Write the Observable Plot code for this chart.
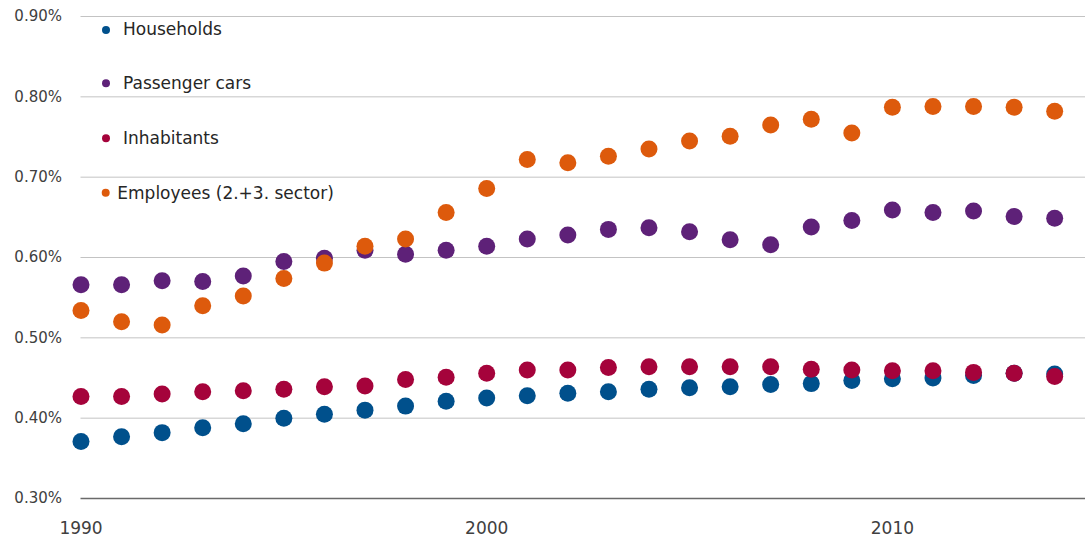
<!DOCTYPE html>
<html>
<head>
<meta charset="utf-8">
<script src="https://cdn.jsdelivr.net/npm/d3@7"></script>
<script src="https://cdn.jsdelivr.net/npm/@observablehq/plot@0.6"></script>
<style>
  html, body { margin: 0; padding: 0; background: #fff; }
  #wrap { position: relative; width: 1085px; height: 538px; }
  #legend { position: absolute; left: 0; top: 0; pointer-events: none; }
</style>
</head>
<body>
<div id="wrap"></div>
<script>
const years = [1990,1991,1992,1993,1994,1995,1996,1997,1998,1999,2000,2001,2002,2003,2004,2005,2006,2007,2008,2009,2010,2011,2012,2013,2014];
const seriesNames = ["Households", "Passenger cars", "Inhabitants", "Employees (2.+3. sector)"];
const seriesColors = ["#00508c", "#5e2178", "#a5033b", "#dd5a0c"];
const households = [0.371,0.377,0.382,0.388,0.393,0.400,0.405,0.410,0.415,0.421,0.425,0.428,0.431,0.433,0.436,0.438,0.439,0.442,0.443,0.447,0.449,0.450,0.453,0.456,0.455];
const passengerCars = [0.566,0.566,0.571,0.570,0.577,0.595,0.599,0.609,0.604,0.609,0.614,0.623,0.628,0.635,0.637,0.632,0.622,0.616,0.638,0.646,0.659,0.656,0.658,0.651,0.649];
const inhabitants = [0.427,0.427,0.430,0.433,0.434,0.436,0.439,0.440,0.448,0.451,0.456,0.460,0.460,0.463,0.464,0.464,0.464,0.464,0.461,0.460,0.459,0.459,0.457,0.456,0.452];
const employees = [0.534,0.520,0.516,0.540,0.552,0.574,0.593,0.614,0.623,0.656,0.686,0.722,0.718,0.726,0.735,0.745,0.751,0.765,0.772,0.755,0.787,0.788,0.788,0.787,0.782];
const yTicks = [0.3,0.4,0.5,0.6,0.7,0.8,0.9];
const xTicks = [1990,2000,2010];

const allSeries = [households, passengerCars, inhabitants, employees];
const data = [];
allSeries.forEach((vals, si) => {
  vals.forEach((v, i) => data.push({year: years[i], value: v, series: seriesNames[si]}));
});

const W = 1085, H = 538;
const mL = 80.5, mR = 0, mT = 16, mB = 40;
const pxPerYear = 40.57;
const xMax = 1990 + (W - mL - mR) / pxPerYear;

const chart = Plot.plot({
  width: W,
  height: H,
  marginLeft: mL,
  marginRight: mR,
  marginTop: mT,
  marginBottom: mB,
  style: {fontFamily: "'DejaVu Sans', sans-serif", color: "#404040", background: "#fff", overflow: "visible"},
  x: {domain: [1990, xMax]},
  y: {domain: [0.3, 0.9]},
  color: {domain: seriesNames, range: seriesColors},
  marks: [
    Plot.ruleY(yTicks.filter(d => d > 0.3), {stroke: "#c3c3c3", strokeWidth: 1}),
    Plot.ruleY([0.3], {stroke: "#6a6a6a", strokeWidth: 1.5}),
    Plot.axisY(yTicks, {tickSize: 0, tickPadding: 19, fontSize: 15, fill: "#404040",
      tickFormat: d => d.toFixed(2) + "%", label: null}),
    Plot.axisX(xTicks, {tickSize: 0, tickPadding: 23, fontSize: 17, fill: "#404040",
      tickFormat: d => String(d), label: null}),
    Plot.dot(data, {x: "year", y: "value", fill: "series", r: 8.5, stroke: "none"})
  ]
});

const wrap = document.getElementById("wrap");
wrap.appendChild(chart);

// legend overlay
const legendPos = [
  {cx: 106, cy: 30, tx: 123, ty: 35},
  {cx: 106, cy: 83.3, tx: 123, ty: 89.3},
  {cx: 106, cy: 138.3, tx: 123, ty: 144.3},
  {cx: 105.7, cy: 192.7, tx: 117.3, ty: 199}
];
const ns = "http://www.w3.org/2000/svg";
const lg = document.createElementNS(ns, "svg");
lg.setAttribute("id", "legend");
lg.setAttribute("width", W);
lg.setAttribute("height", H);
seriesNames.forEach((name, i) => {
  const p = legendPos[i];
  const c = document.createElementNS(ns, "circle");
  c.setAttribute("cx", p.cx); c.setAttribute("cy", p.cy); c.setAttribute("r", 4);
  c.setAttribute("fill", seriesColors[i]);
  lg.appendChild(c);
  const t = document.createElementNS(ns, "text");
  t.setAttribute("x", p.tx); t.setAttribute("y", p.ty);
  t.setAttribute("font-family", "'DejaVu Sans', sans-serif");
  t.setAttribute("font-size", "17");
  t.setAttribute("fill", "#262626");
  t.textContent = name;
  lg.appendChild(t);
});
wrap.appendChild(lg);
</script>
</body>
</html>
